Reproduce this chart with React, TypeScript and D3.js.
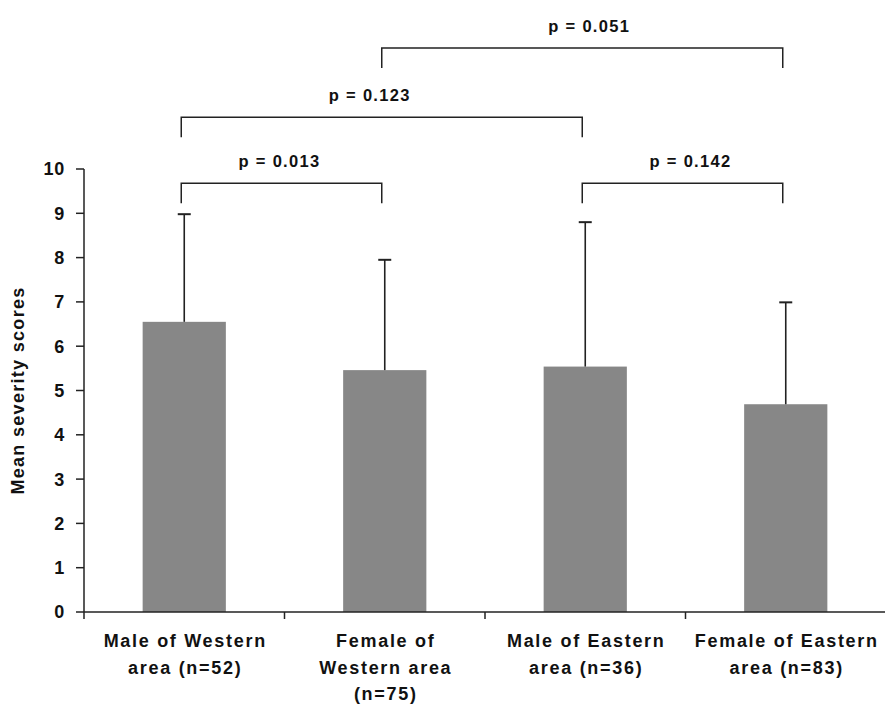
import React from "react";
import * as d3 from "d3";

const categories = [
  "Male of Western area (n=52)",
  "Female of Western area (n=75)",
  "Male of Eastern area (n=36)",
  "Female of Eastern area (n=83)",
];
const categoryLines = [
  ["Male of Western", "area (n=52)"],
  ["Female of", "Western area", "(n=75)"],
  ["Male of Eastern", "area (n=36)"],
  ["Female of Eastern", "area (n=83)"],
];
const means = [6.55, 5.46, 5.54, 4.69];
const sds = [2.43, 2.49, 3.26, 2.3];
const yTicks = [0, 1, 2, 3, 4, 5, 6, 7, 8, 9, 10];

const comparisons = [
  { a: 0, b: 1, p: "p = 0.013", level: 9.68 },
  { a: 2, b: 3, p: "p = 0.142", level: 9.68 },
  { a: 0, b: 2, p: "p = 0.123", level: 11.17 },
  { a: 1, b: 3, p: "p = 0.051", level: 12.73 },
];
const labelShift = [-2, 8, -12, 7];

const W = 885;
const H = 711;
const FONT = "'Liberation Sans', Arial, Helvetica, sans-serif";

export default function App() {
  const x = d3.scaleBand<string>().domain(categories).range([84, 886]).paddingInner(0.585).paddingOuter(0.2925);
  const band = d3.scaleBand<string>().domain(categories).range([84, 886]);
  const y = d3.scaleLinear().domain([0, 10]).range([612, 169]);
  const cx = (i: number) => (x(categories[i]) as number) + x.bandwidth() / 2;
  const capHalf = 6.5;
  const drop = 20;

  const textStyle: React.CSSProperties = {
    fontFamily: FONT,
    fontWeight: "bold",
    fontSize: 18,
    letterSpacing: 1.3,
    fill: "#111",
  };

  return (
    <svg width={W} height={H} style={{ position: "absolute", left: 0, top: 0, background: "#fff" }}>
      <rect x={0} y={0} width={W} height={H} fill="#fff" />
      {/* bars */}
      {means.map((m, i) => (
        <rect
          key={"b" + i}
          x={x(categories[i]) as number}
          y={y(m)}
          width={x.bandwidth()}
          height={y(0) - y(m)}
          fill="#878787"
        />
      ))}
      {/* error bars */}
      {means.map((m, i) => (
        <g key={"e" + i} stroke="#222" strokeWidth={1.6}>
          <line x1={cx(i)} x2={cx(i)} y1={y(m)} y2={y(m + sds[i])} />
          <line x1={cx(i) - capHalf} x2={cx(i) + capHalf} y1={y(m + sds[i])} y2={y(m + sds[i])} strokeWidth={2} />
        </g>
      ))}
      {/* axes */}
      <g stroke="#222" strokeWidth={1.5}>
        <line x1={84} x2={84} y1={y(10)} y2={y(0) + 7} />
        {yTicks.map((t) => (
          <line key={"yt" + t} x1={76} x2={84} y1={y(t)} y2={y(t)} />
        ))}
        <line x1={84} x2={886} y1={y(0)} y2={y(0)} />
        {categories.map((c, i) =>
          i > 0 ? (
            <line key={"xt" + i} x1={band(c) as number} x2={band(c) as number} y1={y(0)} y2={y(0) + 7} />
          ) : null
        )}
      </g>
      {yTicks.map((t) => (
        <text key={"yl" + t} x={65} y={y(t)} dy="0.36em" textAnchor="end" style={{ ...textStyle, letterSpacing: 0.8 }}>
          {t}
        </text>
      ))}
      <text
        transform={`translate(24,${(y(0) + y(10)) / 2}) rotate(-90)`}
        textAnchor="middle"
        style={textStyle}
      >
        Mean severity scores
      </text>
      {/* category labels */}
      {categoryLines.map((lines, i) => (
        <text key={"cl" + i} textAnchor="middle" style={{ ...textStyle, letterSpacing: 1.7 }}>
          {lines.map((ln, j) => (
            <tspan key={j} x={cx(i) + 1} y={647 + j * 26.5}>
              {ln}
            </tspan>
          ))}
        </text>
      ))}
      {/* significance brackets */}
      {comparisons.map((c, k) => {
        const x1 = cx(c.a) - 3;
        const x2 = cx(c.b) - 3;
        const yl = y(c.level);
        return (
          <g key={"br" + k}>
            <path
              d={`M${x1},${yl + drop}V${yl}H${x2}V${yl + drop}`}
              fill="none"
              stroke="#222"
              strokeWidth={1.5}
            />
            <text x={(x1 + x2) / 2 + labelShift[k]} y={yl - 16} textAnchor="middle" style={{ ...textStyle, fontSize: 16.5 }}>
              {c.p}
            </text>
          </g>
        );
      })}
    </svg>
  );
}
